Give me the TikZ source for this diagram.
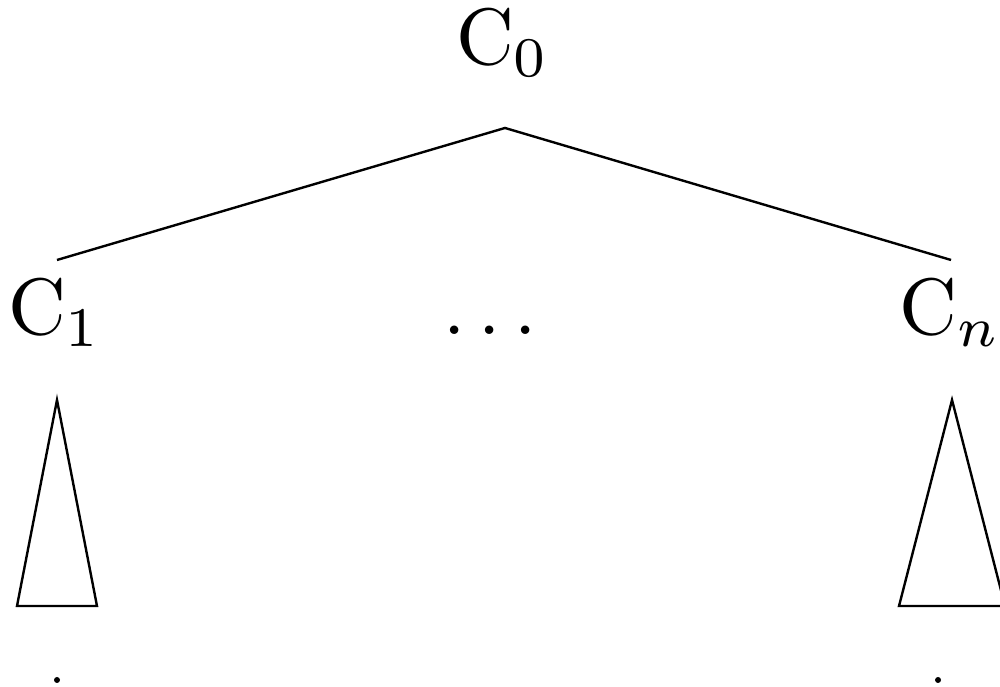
\documentclass[tikz,border=0pt]{standalone}
\begin{document}
\begin{tikzpicture}[x=0.125pt,y=-0.125pt,
  edge/.style={line width=0.3pt},
  tri/.style={line width=0.3pt},
  lbl/.style={anchor=base,inner sep=0pt},
  dotmark/.style={fill=black,draw=none}]
\useasboundingbox (0,0) rectangle (1000,687);
\node[lbl] (c0) at (503,65) {C$_0$};
\node[lbl] (c1) at (55,335) {C$_1$};
\node[lbl] (cdots) at (490,335) {$\dots$};
\node[lbl] (cn) at (950,335) {C$_n$};
\coordinate (top) at (505,128);
\coordinate (l) at (57,260);
\coordinate (r) at (951,260);
\draw[edge] (l) -- (top) -- (r);
\draw[tri] (57,400) -- (97,606) -- (17,606) -- cycle;
\draw[tri] (952,400) -- (1005,606) -- (899,606) -- cycle;
\fill[dotmark] (57,680) circle (3);
\fill[dotmark] (938,680) circle (3);
\end{tikzpicture}
\end{document}
